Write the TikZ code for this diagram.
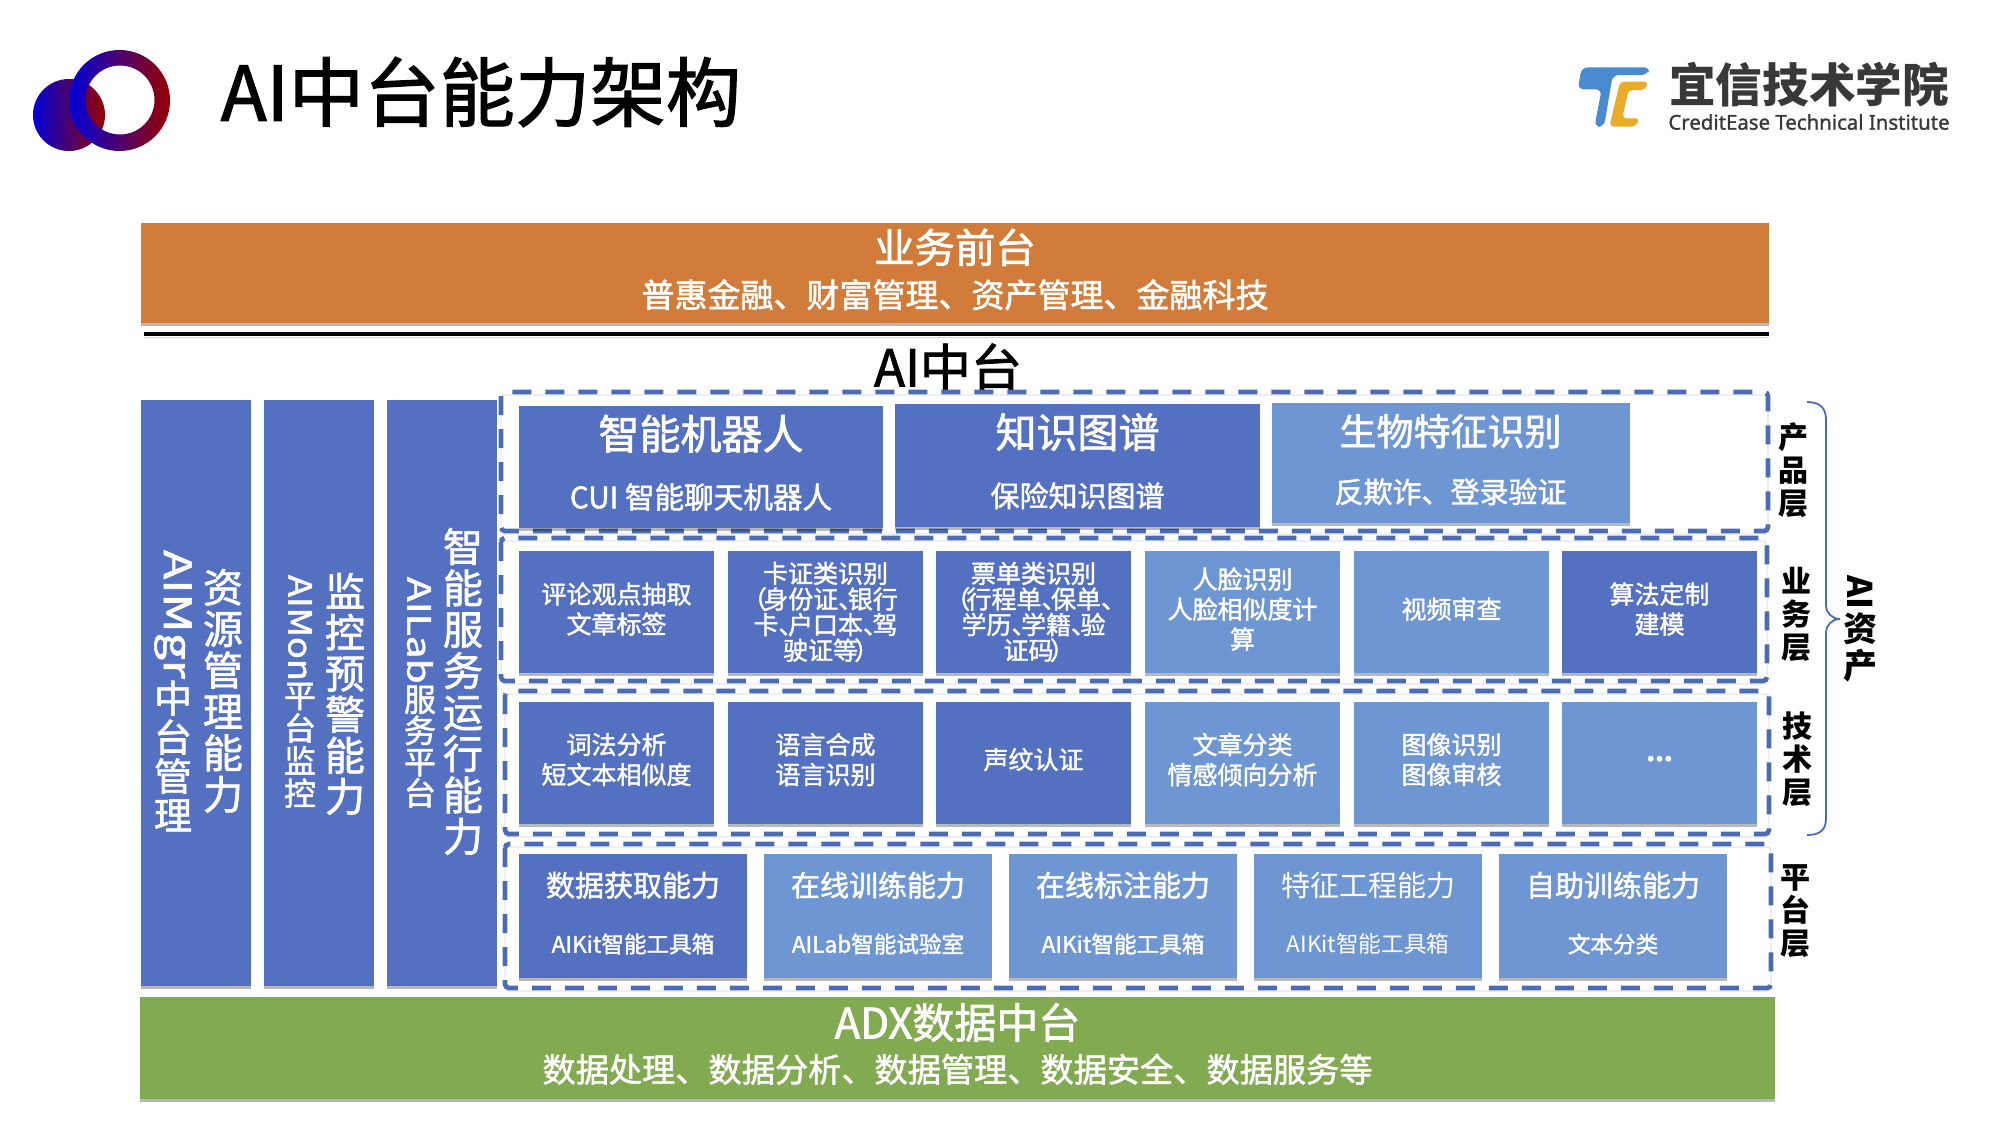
\documentclass[tikz,border=0pt]{standalone}
\usepackage{graphicx}
\usepackage{fontspec}
\setmainfont{Noto Sans CJK SC}
\newfontfamily\cjkmed[FakeBold=1.6]{Noto Sans CJK SC}
\newfontfamily\latinmed[FakeBold=1.2]{Noto Sans}
\usetikzlibrary{shadows}
\definecolor{darkblue}{RGB}{84, 112, 192}
\definecolor{lightblue}{RGB}{110, 150, 210}
\definecolor{orangebar}{RGB}{210, 124, 59}
\definecolor{greenbar}{RGB}{130, 170, 80}
\definecolor{dashblue}{RGB}{76, 107, 181}
\definecolor{logoblue}{RGB}{74, 139, 208}
\definecolor{logoyellow}{RGB}{232, 172, 40}
\newcommand{\fsize}[2]{\fontsize{#1}{#2}\selectfont}
\newcommand{\dun}{、\kern-.62em}
\newcommand{\lparen}{\kern-.45em（\kern-.15em}
\newcommand{\rparen}{\kern-.15em）\kern-.45em}
\tikzset{
  softshadow/.style={drop shadow={shadow xshift=0pt, shadow yshift=-1.5pt, opacity=0.28, fill=black}},
  block/.style={inner sep=0pt, outer sep=0pt, text=white, align=center, softshadow, font=\cjkmed},
  darkbox/.style={block, fill=darkblue},
  lightbox/.style={block, fill=lightblue},
  sidebar/.style={darkbox, minimum width=55pt, minimum height=293pt},
  raised/.style={execute at end node={\rule[-#1]{0pt}{0pt}}},
  cardbox/.style={minimum width=97.5pt, minimum height=61pt, font=\cjkmed\fsize{12.5}{12.8}},
  rowbox/.style={minimum width=97.5pt, minimum height=61pt, font=\cjkmed\fsize{12.5}{15}, raised=4pt},
  platbox/.style={minimum width=114pt, minimum height=62pt, font=\cjkmed\fsize{10}{28.2}, raised=3.8pt},
  stacktext/.style={inner sep=0pt, outer sep=0pt, text=white, align=center, anchor=north, font=\cjkmed},
  sidelabel/.style={inner sep=0pt, outer sep=0pt, align=center, anchor=north, font=\bfseries\fsize{15}{16.5}},
  layerframe/.style={draw=dashblue, line width=2.3pt, dash pattern=on 9.5pt off 7pt, rounded corners=2pt,
    preaction={draw=black, opacity=0.18, transform canvas={yshift=-1.5pt}}},
}

\begin{document}
\begin{tikzpicture}[x=0.5pt, y=-0.5pt]
  \useasboundingbox (0, 0) rectangle (2000, 1125);

  % logo and title
  \shade [left color=blue!85!black, right color=red!60!black] (69, 115) circle (36);
  \shade [even odd rule, left color=blue!85!black, middle color=blue!60!red!75!black, right color=red!60!black]
    (119.5, 100.5) circle (50.5) (120, 100) circle (34.5);
  \node (title) at (481, 92) [inner sep=0pt, font=\cjkmed\fsize{37.7}{44}] {AI中台能力架构};

  % institute logo
  \begin{scope}[shift={(1500, 30)}, x=0.1667pt, y=-0.1667pt]
    \fill [logoblue, rounded corners=3pt] (245, 112) -- (450, 112) -- (442, 135) -- (338, 135)
      -- (312, 290) -- (283, 290) -- (305, 178) -- (233, 178) -- cycle;
    \fill [logoyellow, rounded corners=2pt] (360, 155) -- (445, 155) -- (435, 180) -- (385, 180)
      -- (367, 265) -- (420, 265) -- (405, 290) -- (328, 290) -- cycle;
  \end{scope}
  \node (school) at (1809, 85) [inner sep=0pt, text=black!78, font=\bfseries\fsize{23.3}{26}] {宜信技术学院};
  \node (schooleng) at (1809, 122) [inner sep=0pt, text=black!78, font=\latinmed\fsize{10.2}{12}] {CreditEase Technical Institute};

  % front layer
  \node[block, fill=orangebar, minimum width=814pt, minimum height=50pt, font=\cjkmed\fsize{10}{22.3}, raised=5pt] (front) at (955, 273)
    {\fsize{20.2}{24}业务前台\\\fsize{16.5}{23}普惠金融、财富管理、资产管理、金融科技};
  \draw [line width=1.6pt, preaction={draw=black, opacity=0.18, transform canvas={yshift=-1.5pt}}] (144, 334) -- (1769, 334);
  \node (middle) at (948, 367) [inner sep=0pt, font=\cjkmed\fsize{25.5}{28}] {AI中台};

  % side columns
  \node[sidebar] (mgr) at (196, 693) {};
  \node[sidebar] (mon) at (319, 693) {};
  \node[sidebar] (lab) at (442, 693) {};
  \node[stacktext, font=\cjkmed\fsize{19}{19.5}] (mgrsub) at (173, 550) {\rotatebox[origin=c]{-90}{\scalebox{1.27}[1]{AIMgr}}\\中\\台\\管\\理};
  \node[stacktext, font=\cjkmed\fsize{20}{20.7}] (mgrmain) at (223, 569) {资\\源\\管\\理\\能\\力};
  \node[stacktext, font=\cjkmed\fsize{16}{16.3}] (monsub) at (300, 575) {\rotatebox[origin=c]{-90}{\scalebox{1.13}[1]{AIMon}}\\平\\台\\监\\控};
  \node[stacktext, font=\cjkmed\fsize{20}{20.5}] (monmain) at (345, 573) {监\\控\\预\\警\\能\\力};
  \node[stacktext, font=\cjkmed\fsize{16}{15.6}] (labsub) at (420, 577) {\rotatebox[origin=c]{-90}{\scalebox{1.27}[1]{AILab}}\\服\\务\\平\\台};
  \node[stacktext, font=\cjkmed\fsize{20}{20.7}] (labmain) at (463, 528) {智\\能\\服\\务\\运\\行\\能\\力};

  % layer frames
  \draw [layerframe] (501, 392) rectangle (1768, 531);
  \draw [layerframe] (501, 538) rectangle (1767, 681);
  \draw [layerframe] (505, 691) rectangle (1769, 834);
  \draw [layerframe] (505, 844) rectangle (1771, 988);

  % product layer
  \node[darkbox, minimum width=182pt, minimum height=61pt, font=\cjkmed\fsize{10}{29.5}, raised=5.5pt] (robot) at (701, 467)
    {\fsize{20.5}{24}智能机器人\\\fsize{14.8}{31}CUI 智能聊天机器人};
  \node[darkbox, minimum width=182.5pt, minimum height=61.5pt, font=\cjkmed\fsize{10}{29.5}, raised=5.5pt] (graph) at (1077.5, 465.5)
    {\fsize{20.5}{24}知识图谱\\\fsize{14.5}{31}保险知识图谱};
  \node[lightbox, minimum width=179pt, minimum height=60pt, font=\cjkmed\fsize{10}{28.8}, raised=4.5pt] (bio) at (1450.5, 463)
    {\fsize{18.5}{22}生物特征识别\\\fsize{14.5}{30}反欺诈、登录验证};

  % business layer
  \node[darkbox, rowbox] (opinion) at (616.5, 612) {评论观点抽取\\文章标签};
  \node[darkbox, cardbox] (card) at (825.5, 612) {卡证类识别\\\lparen 身份证\dun 银行\\卡\dun 户口本\dun 驾\\驶证等\rparen};
  \node[darkbox, cardbox] (bill) at (1033.5, 612) {票单类识别\\\lparen 行程单\dun 保单\dun\\学历\dun 学籍\dun 验\\证码\rparen};
  \node[lightbox, rowbox] (face) at (1242.5, 612) {人脸识别\\人脸相似度计\\算};
  \node[lightbox, rowbox] (video) at (1451.5, 612) {视频审查};
  \node[darkbox, rowbox] (custom) at (1659.5, 612) {算法定制\\建模};

  % tech layer
  \node[darkbox, rowbox] (lexical) at (616.5, 762.5) {词法分析\\短文本相似度};
  \node[darkbox, rowbox] (speech) at (825.5, 762.5) {语言合成\\语言识别};
  \node[darkbox, rowbox] (voice) at (1033.5, 762.5) {声纹认证};
  \node[lightbox, rowbox] (article) at (1242.5, 762.5) {文章分类\\情感倾向分析};
  \node[lightbox, rowbox] (image) at (1451.5, 762.5) {图像识别\\图像审核};
  \node[lightbox, rowbox] (more) at (1659.5, 762.5) {\bfseries ...};

  % platform layer
  \node[darkbox, platbox] (fetch) at (633, 916) {\fsize{14.5}{17}数据获取能力\\\fsize{11.3}{13}AIKit智能工具箱};
  \node[lightbox, platbox] (train) at (878, 916) {\fsize{14.5}{17}在线训练能力\\\fsize{11.3}{13}AILab智能试验室};
  \node[lightbox, platbox] (mark) at (1123, 916) {\fsize{14.5}{17}在线标注能力\\\fsize{11.3}{13}AIKit智能工具箱};
  \node[lightbox, platbox, font=\rmfamily\fsize{10}{28.2}] (feature) at (1368, 916) {\fsize{14.5}{17}特征工程能力\\\fsize{11.3}{13}AIKit智能工具箱};
  \node[lightbox, platbox] (selftrain) at (1613, 916) {\fsize{14.5}{17}自助训练能力\\\fsize{11.3}{13}文本分类};

  % data layer
  \node[block, fill=greenbar, minimum width=817.5pt, minimum height=51pt, font=\cjkmed\fsize{10}{21.8}, raised=5.5pt] (data) at (957.5, 1048)
    {\fsize{21}{24}ADX数据中台\\\fsize{16.6}{23}数据处理、数据分析、数据管理、数据安全、数据服务等};

  % right labels
  \node[sidelabel] (lproduct) at (1793, 423) {产\\品\\层};
  \node[sidelabel] (lbusiness) at (1796, 567) {业\\务\\层};
  \node[sidelabel] (ltech) at (1797, 712) {技\\术\\层};
  \node[sidelabel] (lplatform) at (1795, 865) {平\\台\\层};
  \draw [dashblue, line width=0.9pt] (1807, 402) .. controls (1820, 402) and (1826, 408) .. (1826, 420)
    -- (1826, 605) .. controls (1826, 613) and (1832, 619) .. (1840, 619)
    .. controls (1832, 619) and (1826, 625) .. (1826, 633)
    -- (1826, 818) .. controls (1826, 830) and (1820, 835) .. (1807, 835);
  \node[sidelabel, font=\bfseries\fsize{17}{18.5}] (assets) at (1860, 575) {\rotatebox[origin=c]{-90}{AI}\\资\\产};
\end{tikzpicture}
\end{document}
